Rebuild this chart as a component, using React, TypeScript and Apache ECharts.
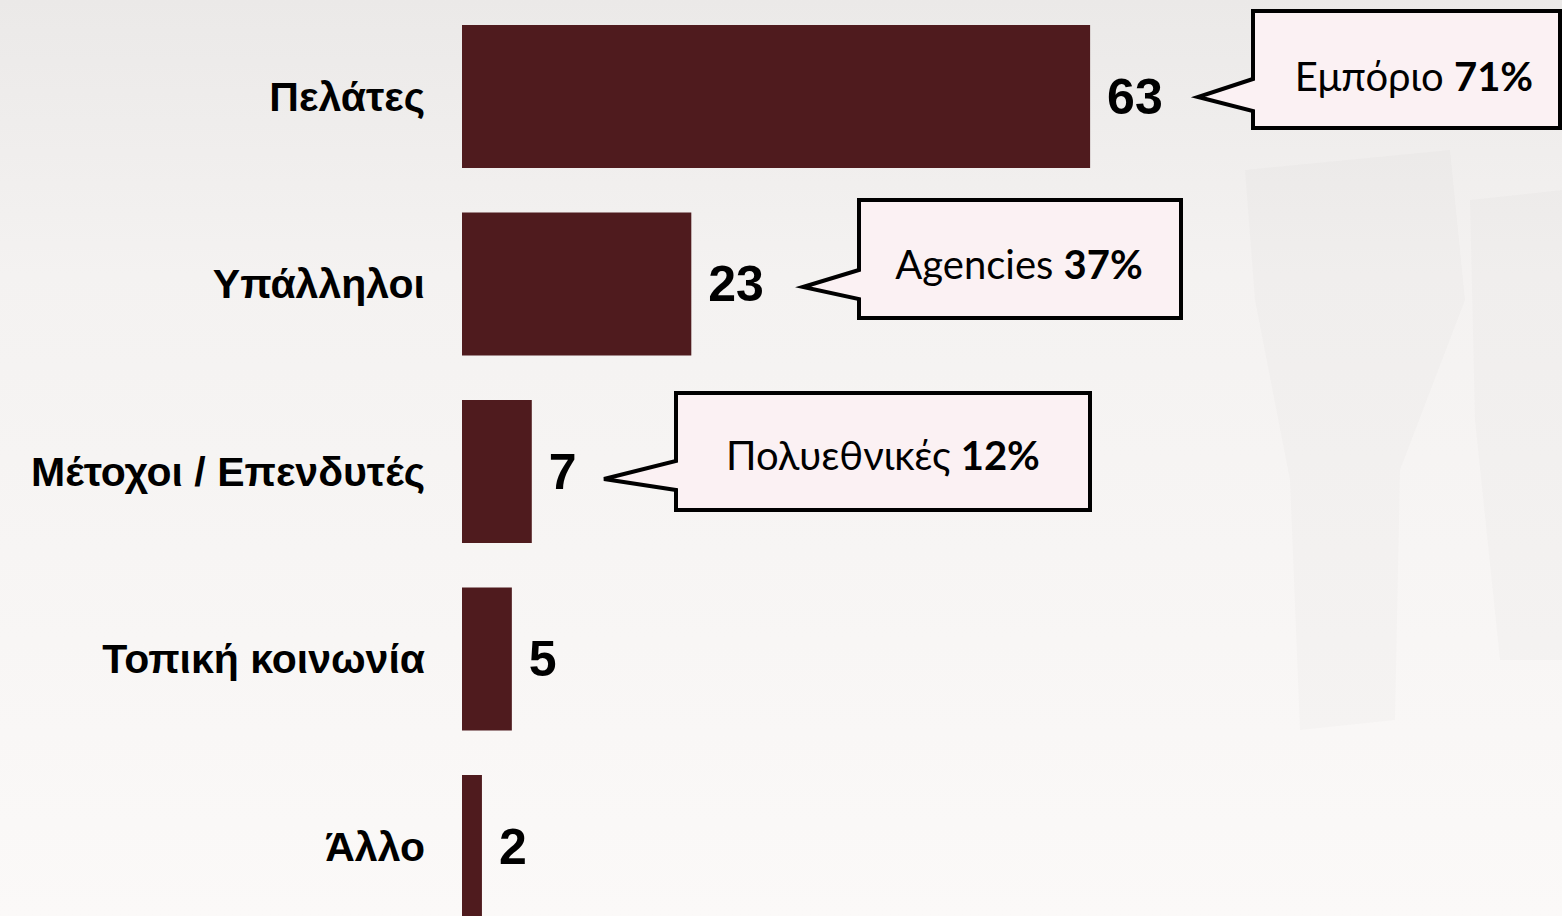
import React, { useEffect, useRef } from "react";
import * as echarts from "echarts";

const categories = ["Πελάτες", "Υπάλληλοι", "Μέτοχοι / Επενδυτές", "Τοπική κοινωνία", "Άλλο"];
const values = [63, 23, 7, 5, 2];
const calloutNames = ["Εμπόριο", "Agencies", "Πολυεθνικές"];
const calloutPercents = ["71%", "37%", "12%"];

const BAR_COLOR = "#4F1B1E";
const BOX_FILL = "#FBF1F3";

function calloutShape(left: number, top: number, right: number, bottom: number, b1: number, b2: number, tipX: number, tipY: number) {
  return [
    [left, top],
    [right, top],
    [right, bottom],
    [left, bottom],
    [left, b2],
    [tipX, tipY],
    [left, b1],
  ];
}

const boxes = [
  { shape: calloutShape(1253, 11, 1560, 128, 79, 111, 1198, 97), tx: 1414, ty: 76 },
  { shape: calloutShape(859, 200, 1181, 318, 270, 299, 803, 287), tx: 1019, ty: 264 },
  { shape: calloutShape(676, 393, 1090, 510, 461, 490, 604, 479), tx: 883, ty: 455 },
];

export default function App() {
  const ref = useRef<HTMLDivElement>(null);
  useEffect(() => {
    if (!ref.current) return;
    const chart = echarts.init(ref.current, undefined, { renderer: "svg" });
    const faint = "rgba(170,165,165,0.045)";
    const graphics: any[] = [
      // faint background silhouettes
      { type: "polygon", silent: true, z: -10, shape: { points: [[1245, 170], [1450, 150], [1465, 300], [1400, 470], [1395, 720], [1300, 730], [1290, 480], [1255, 300]] }, style: { fill: faint } },
      { type: "polygon", silent: true, z: -10, shape: { points: [[1470, 200], [1562, 190], [1562, 660], [1500, 660], [1475, 420]] }, style: { fill: faint } },
    ];
    boxes.forEach((b, i) => {
      graphics.push({
        type: "polygon",
        z: 10,
        shape: { points: b.shape },
        style: { fill: BOX_FILL, stroke: "#000", lineWidth: 4, lineJoin: "miter" },
      });
      graphics.push({
        type: "text",
        z: 11,
        x: b.tx,
        y: b.ty,
        style: {
          text: `{n|${calloutNames[i]} }{p|${calloutPercents[i]}}`,
          align: "center",
          verticalAlign: "middle",
          rich: {
            n: { fontFamily: "Lato", fontSize: 40, color: "#000" },
            p: { fontFamily: "Lato", fontSize: 40, fontWeight: "bold", color: "#000" },
          },
        },
      });
    });
    chart.setOption({
      animation: false,
      backgroundColor: new echarts.graphic.LinearGradient(0, 0, 0, 1, [
        { offset: 0, color: "#EBE9E8" },
        { offset: 0.3, color: "#F4F2F1" },
        { offset: 1, color: "#FBF9F8" },
      ]),
      grid: { left: 462, right: 103, top: 2.75, height: 937.5, containLabel: false, outerBoundsMode: "none" },
      xAxis: {
        type: "value",
        min: 0,
        max: 100,
        show: false,
        splitLine: { show: false },
      },
      yAxis: {
        type: "category",
        inverse: true,
        data: categories,
        axisLine: { show: false },
        axisTick: { show: false },
        axisLabel: {
          margin: 37,
          fontFamily: "Liberation Sans",
          fontWeight: "bold",
          fontSize: 41,
          color: "#000",
        },
      },
      series: [
        {
          type: "bar",
          data: values,
          barWidth: 143,
          itemStyle: { color: BAR_COLOR },
          label: {
            show: true,
            position: "right",
            distance: 17,
            fontFamily: "Liberation Sans",
            fontWeight: "bold",
            fontSize: 50,
            color: "#000",
          },
        },
      ],
      graphic: graphics,
    });
    return () => chart.dispose();
  }, []);
  return <div ref={ref} style={{ position: "fixed", left: 0, top: 0, width: 1562, height: 916 }} />;
}
